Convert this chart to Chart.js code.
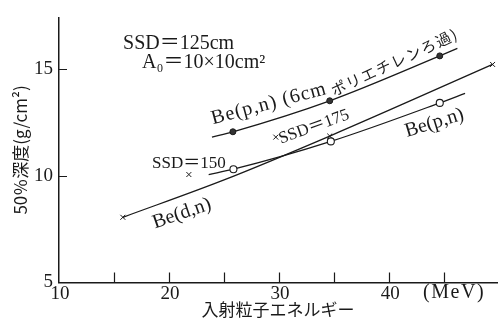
<!DOCTYPE html>
<html>
<head>
<meta charset="utf-8">
<script src="https://cdn.jsdelivr.net/npm/chart.js@4.4.1/dist/chart.umd.min.js"></script>
<style>
  html, body { margin: 0; padding: 0; background: #fff; }
  #wrap { width: 504px; height: 325px; }
</style>
</head>
<body>
<div id="wrap"><canvas id="c" width="504" height="325"></canvas></div>
<script>
// Incident particle energy (MeV) and 50 % depth (g/cm²) for each source
const bePnFilteredEnergy = [23.9, 25.8, 34.6, 44.6, 46.2];
const bePnFilteredDepth  = [11.8, 12.05, 13.5, 15.6, 15.95];

const bePnEnergy = [23.6, 25.85, 34.7, 44.6, 46.9];
const bePnDepth  = [10.05, 10.3, 11.6, 13.4, 13.85];

const beDnEnergy = [15.8, 25.0, 34.6, 49.4];
const beDnDepth  = [8.05, 9.8, 11.85, 15.2];

// Be(d,n) measured at other source distances
const ssdEnergy = [21.8, 29.7];
const ssdDepth  = [10.05, 11.8];

const xTickValues = [10, 20, 30, 40];
const yTickValues = [5, 10, 15];

const toXY = (xs, ys) => xs.map((x, i) => ({ x, y: ys[i] }));

const SERIF = '"Liberation Serif", "DejaVu Serif", "Noto Sans CJK JP", serif';
const JP = '"Noto Sans CJK JP", "Liberation Serif", sans-serif';
const INK = '#1a1a1a';

// Free text placed in data coordinates (energy, depth), baseline-left anchored
const notes = [
  { text: 'SSD＝125cm', e: 15.82, d: 15.91, rot: 0, font: '20px ' + SERIF, sp: 0 },
  { text: 'A₀＝10×10cm²', e: 17.55, d: 15.05, rot: 0, font: '20px ' + SERIF, sp: 0 },
  { text: 'Be(p,n) (6cm', e: 24.0, d: 12.40, rot: -15, font: '20px ' + SERIF, sp: 1 },
  { text: 'ポリエチレンろ過)', e: 35.0, d: 13.70, rot: -25, font: '15px ' + JP, sp: 1.5 },
  { text: 'SSD＝175', e: 30.17, d: 11.49, rot: -20, font: '17px ' + SERIF, sp: 0 },
  { text: 'SSD＝150', e: 18.45, d: 10.35, rot: 0, font: '17px ' + SERIF, sp: 0 },
  { text: 'Be(p,n)', e: 41.62, d: 11.81, rot: -17, font: '20px ' + SERIF, sp: 0 },
  { text: 'Be(d,n)', e: 18.72, d: 7.53, rot: -19, font: '20px ' + SERIF, sp: 0 }
];

const decorations = {
  id: 'decorations',
  afterDraw(chart) {
    const { ctx, scales: { x, y } } = chart;
    ctx.save();
    // inward tick marks
    ctx.strokeStyle = INK;
    ctx.lineWidth = 1.2;
    ctx.beginPath();
    [15, 20, 25, 30, 35, 40, 45].forEach(v => {
      const px = Math.round(x.getPixelForValue(v)) + 0.5;
      ctx.moveTo(px, y.bottom);
      ctx.lineTo(px, y.bottom - 10);
    });
    [10, 15].forEach(v => {
      const py = Math.round(y.getPixelForValue(v)) + 0.5;
      ctx.moveTo(x.left, py);
      ctx.lineTo(x.left + 8, py);
    });
    ctx.stroke();

    // annotations
    ctx.fillStyle = INK;
    ctx.textBaseline = 'alphabetic';
    ctx.textAlign = 'left';
    notes.forEach(n => {
      ctx.save();
      ctx.font = n.font;
      ctx.letterSpacing = n.sp + 'px';
      ctx.translate(x.getPixelForValue(n.e), y.getPixelForValue(n.d));
      ctx.rotate(n.rot * Math.PI / 180);
      ctx.fillText(n.text, 0, 0);
      ctx.restore();
    });

    // unit on the energy axis
    ctx.font = '20px ' + SERIF;
    ctx.letterSpacing = '1.5px';
    ctx.textAlign = 'center';
    ctx.fillText('(MeV)', x.getPixelForValue(45.9), y.bottom + 15);
    ctx.restore();
  }
};

const lineStyle = {
  borderColor: INK,
  borderWidth: 1.3,
  cubicInterpolationMode: 'monotone',
  showLine: true,
  fill: false
};

new Chart(document.getElementById('c'), {
  type: 'scatter',
  data: {
    datasets: [
      {
        label: 'Be(p,n) (6cm ポリエチレンろ過)',
        data: toXY(bePnFilteredEnergy, bePnFilteredDepth),
        ...lineStyle,
        pointStyle: 'circle',
        pointRadius: [0, 3, 3, 3, 0],
        pointBackgroundColor: '#333',
        pointBorderColor: INK,
        pointBorderWidth: 1
      },
      {
        label: 'Be(p,n)',
        data: toXY(bePnEnergy, bePnDepth),
        ...lineStyle,
        pointStyle: 'circle',
        pointRadius: [0, 3.5, 3.5, 3.5, 0],
        pointBackgroundColor: '#fff',
        pointBorderColor: INK,
        pointBorderWidth: 1.1
      },
      {
        label: 'Be(d,n)',
        data: toXY(beDnEnergy, beDnDepth),
        ...lineStyle,
        pointStyle: 'crossRot',
        pointRadius: [3.5, 0, 3.5, 3.5],
        pointBorderColor: INK,
        pointBorderWidth: 1
      },
      {
        label: 'SSD',
        data: toXY(ssdEnergy, ssdDepth),
        showLine: false,
        pointStyle: 'crossRot',
        pointRadius: 3.5,
        pointBorderColor: INK,
        pointBorderWidth: 1
      }
    ]
  },
  options: {
    responsive: false,
    devicePixelRatio: 1,
    animation: false,
    layout: { padding: { left: 0, right: 7, top: 10, bottom: 0 } },
    plugins: {
      legend: { display: false },
      tooltip: { enabled: false }
    },
    scales: {
      x: {
        type: 'linear',
        min: 10,
        max: 49.8,
        afterFit(scale) { scale.height = 42.5; },
        afterBuildTicks(scale) { scale.ticks = xTickValues.map(v => ({ value: v })); },
        grid: { display: false, drawTicks: false },
        border: { display: true, color: INK, width: 1.5 },
        ticks: {
          padding: 0,
          color: INK,
          font: { family: SERIF, size: 19 },
          labelOffset: 1,
          callback: v => String(v)
        },
        title: {
          display: true,
          text: '入射粒子エネルギー',
          color: INK,
          font: { family: JP, size: 17 },
          padding: { top: 0, bottom: 5 }
        }
      },
      y: {
        type: 'linear',
        min: 5,
        max: 17.4,
        afterFit(scale) { scale.width = 59; },
        afterBuildTicks(scale) { scale.ticks = yTickValues.map(v => ({ value: v })); },
        grid: { display: false, drawTicks: false },
        border: { display: true, color: INK, width: 1.5 },
        ticks: {
          padding: 6,
          color: INK,
          font: { family: SERIF, size: 19 },
          callback: v => String(v)
        },
        title: {
          display: true,
          text: '50％深度(g/cm²)',
          color: INK,
          font: { family: JP, size: 17 },
          padding: { top: 10, bottom: 0 }
        }
      }
    }
  },
  plugins: [decorations]
});
</script>
</body>
</html>
